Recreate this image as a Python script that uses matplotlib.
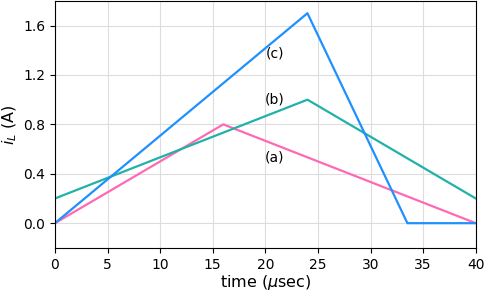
import numpy as np
import matplotlib
matplotlib.use("Agg")
import matplotlib.pyplot as plt

# waveform corner points (time in usec, current in A)
t_a = [0, 16, 40]
i_a = [0, 0.8, 0]
t_b = [0, 24, 40]
i_b = [0.2, 1.0, 0.2]
t_c = [0, 24, 33.5, 40]
i_c = [0, 1.7, 0, 0]

labels = ["(a)", "(b)", "(c)"]
label_pos = [(20.9, 0.53), (20.9, 1.0), (20.9, 1.37)]

fig = plt.figure(figsize=(4.86, 2.93), dpi=100)
ax = fig.add_axes([0.113, 0.154, 0.866, 0.843])

ax.plot(t_a, i_a, color='hotpink', lw=1.6)
ax.plot(t_b, i_b, color='lightseagreen', lw=1.6)
ax.plot(t_c, i_c, color='dodgerblue', lw=1.6)

for lab, (x, y) in zip(labels, label_pos):
    ax.text(x, y, lab, ha='center', va='center', fontsize=10)

ax.set_xlim(0, 40)
ax.set_ylim(-0.2, 1.8)
ax.set_xticks(np.arange(0, 41, 5))
ax.set_yticks([0.0, 0.4, 0.8, 1.2, 1.6])
ax.grid(True, color='#dddddd', lw=0.8)
ax.set_xlabel(r'time ($\mu$sec)', fontsize=11.5, labelpad=1)
ax.set_ylabel(r'$i_L$ (A)', fontsize=11.5, labelpad=3)

plt.savefig("out.png", dpi=100)
